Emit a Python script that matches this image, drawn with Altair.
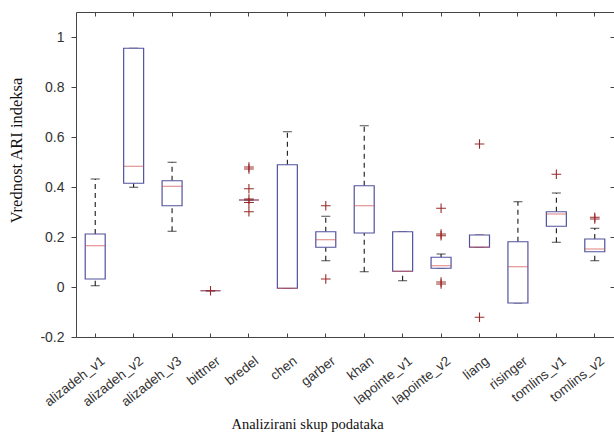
import altair as alt
import pandas as pd

categories = ["alizadeh_v1", "alizadeh_v2", "alizadeh_v3", "bittner", "bredel", "chen",
              "garber", "khan", "lapointe_v1", "lapointe_v2", "liang", "risinger",
              "tomlins_v1", "tomlins_v2"]
lower_whisker = [0.005, 0.399, 0.223, -0.015, 0.348, -0.005, 0.105, 0.061, 0.025, 0.075, 0.159, -0.064, 0.179, 0.105]
q1 = [0.032, 0.415, 0.325, -0.015, 0.348, -0.005, 0.159, 0.216, 0.063, 0.075, 0.159, -0.064, 0.243, 0.141]
median = [0.165, 0.483, 0.403, -0.015, 0.348, -0.005, 0.189, 0.325, 0.063, 0.085, 0.160, 0.081, 0.292, 0.152]
q3 = [0.212, 0.955, 0.425, -0.015, 0.348, 0.489, 0.221, 0.405, 0.221, 0.119, 0.208, 0.181, 0.301, 0.192]
upper_whisker = [0.432, 0.955, 0.499, -0.015, 0.348, 0.621, 0.283, 0.645, 0.221, 0.132, 0.208, 0.341, 0.376, 0.235]

outlier_category = ["bittner", "bredel", "bredel", "bredel", "bredel", "bredel", "bredel",
                    "garber", "garber", "lapointe_v2", "lapointe_v2", "lapointe_v2", "lapointe_v2",
                    "lapointe_v2", "liang", "liang", "tomlins_v1", "tomlins_v2", "tomlins_v2"]
outlier_value = [-0.015, 0.480, 0.472, 0.393, 0.352, 0.338, 0.301,
                 0.325, 0.032, 0.315, 0.212, 0.205, 0.020, 0.012, 0.572, -0.121, 0.451, 0.279, 0.272]

y_ticks = [-0.2, 0, 0.2, 0.4, 0.6, 0.8, 1]

df = pd.DataFrame({"cat": categories, "lw": lower_whisker, "q1": q1, "med": median,
                   "q3": q3, "uw": upper_whisker})
dfo = pd.DataFrame({"cat": outlier_category, "v": outlier_value})

BOX = "#52529e"
MED = "#d04848"
OUT = "#9a2a2a"
AX = "#444444"
SERIF = "Liberation Serif"
SANS = "Liberation Sans"

xs = alt.Scale(domain=categories, paddingInner=0.48, paddingOuter=0.24)
ys = alt.Scale(domain=[-0.2, 1.1], nice=False, zero=False)

tick_axis_common = dict(labels=False, domain=False, ticks=True, tickSize=4, offset=-4,
                        tickColor=AX, title=None, grid=False)

x_bottom_ticks = alt.Axis(orient="bottom", **tick_axis_common)
x_top_ticks = alt.Axis(orient="top", **tick_axis_common)
y_right_ticks = alt.Axis(orient="right", values=y_ticks, **tick_axis_common)
x_top_line = alt.Axis(orient="top", labels=False, ticks=False, domain=True, domainColor=AX,
                      title=None, grid=False)

x_label_axis = alt.Axis(orient="bottom", domain=True, domainColor=AX, ticks=False,
                        labelAngle=-38, labelAlign="right", labelBaseline="middle",
                        labelPadding=22, labelOffset=8,
                        labelFont=SANS, labelFontSize=13.5, labelColor="#333333",
                        title="Analizirani skup podataka", titleFont=SERIF, titleFontSize=14.5,
                        titleFontWeight="normal", titleColor="#111111",
                        titleX=231, titleY=91, titleAlign="center", titleBaseline="alphabetic",
                        grid=False)
y_label_axis = alt.Axis(orient="left", values=y_ticks, domain=True, domainColor=AX,
                        ticks=True, tickSize=5, tickColor=AX,
                        labelExpr="'' + round(datum.value * 10) / 10",
                        labelFont=SANS, labelFontSize=14, labelColor="#333333", labelPadding=7,
                        title="Vrednost ARI indeksa", titleFont=SERIF, titleFontSize=16.5,
                        titleFontWeight="normal", titleColor="#111111",
                        titleX=-60, titleY=138, titleAlign="center", titleBaseline="middle",
                        titleAngle=270, grid=False)

base = alt.Chart(df)

whisk_up = base.mark_rule(color="black", strokeWidth=1, strokeDash=[5, 4]).encode(
    x=alt.X("cat:N", scale=xs, sort=categories, axis=x_bottom_ticks),
    y=alt.Y("q3:Q", scale=ys, axis=y_right_ticks),
    y2="uw:Q",
)
whisk_low = base.mark_rule(color="black", strokeWidth=1, strokeDash=[5, 4]).encode(
    x=alt.X("cat:N", scale=xs, sort=categories, axis=None),
    y=alt.Y("lw:Q", scale=ys, axis=None),
    y2="q1:Q",
)
cap_up = base.mark_tick(color="black", size=9, thickness=1).encode(
    x=alt.X("cat:N", scale=xs, sort=categories, axis=x_top_ticks),
    y=alt.Y("uw:Q", scale=ys, axis=None),
)
cap_low = base.mark_tick(color="black", size=9, thickness=1).encode(
    x=alt.X("cat:N", scale=xs, sort=categories, axis=x_top_line),
    y=alt.Y("lw:Q", scale=ys, axis=None),
)
box = base.mark_bar(fill="white", stroke=BOX, strokeWidth=1.2).encode(
    x=alt.X("cat:N", scale=xs, sort=categories, axis=x_label_axis),
    y=alt.Y("q1:Q", scale=ys, axis=y_label_axis),
    y2="q3:Q",
)
med = base.mark_tick(color=MED, size=20, thickness=1).encode(
    x=alt.X("cat:N", scale=xs, sort=categories, axis=None),
    y=alt.Y("med:Q", scale=ys, axis=None),
)
outl = alt.Chart(dfo).mark_point(
    shape="M-1,0L1,0M0,-1L0,1", size=95, filled=False, color=OUT, strokeWidth=1.1, opacity=1
).encode(
    x=alt.X("cat:N", scale=xs, sort=categories, axis=None),
    y=alt.Y("v:Q", scale=ys, axis=None),
)

chart = alt.layer(whisk_up, whisk_low, cap_up, cap_low, box, med, outl).resolve_axis(
    x="independent", y="independent"
).properties(
    width=538, height=325,
    autosize=alt.AutoSizeParams(type="none"),
    padding={"left": 76, "top": 12, "right": 0, "bottom": 97},
).configure_view(stroke=None).configure(background="white")

chart.save("out.html", embed_options={"renderer": "svg", "actions": False})
